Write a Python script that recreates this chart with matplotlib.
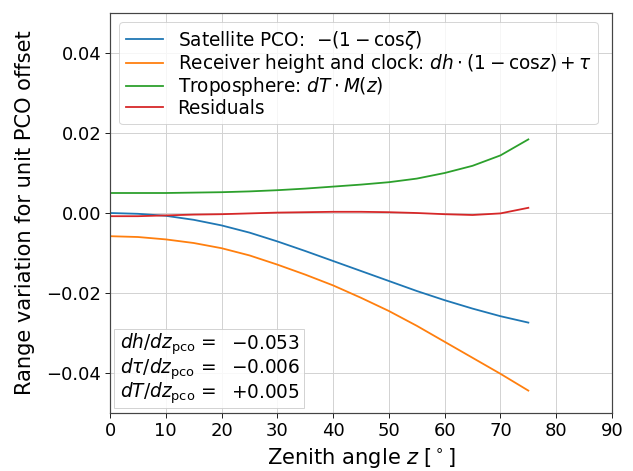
import matplotlib
matplotlib.use("Agg")
import matplotlib.pyplot as plt
from matplotlib.patches import Rectangle

zenith = [0, 5, 10, 15, 20, 25, 30, 35, 40, 45, 50, 55, 60, 65, 70, 75]
sat_pco = [0.0, -0.0002, -0.0007, -0.0017, -0.0031, -0.0049, -0.0071, -0.0095,
           -0.0120, -0.0145, -0.0170, -0.0195, -0.0218, -0.0239, -0.0258, -0.0274]
rcv_hc = [-0.0058, -0.0060, -0.0066, -0.0075, -0.0088, -0.0106, -0.0129, -0.0154,
          -0.0181, -0.0212, -0.0245, -0.0282, -0.0322, -0.0362, -0.0402, -0.0444]
tropo = [0.0050, 0.0050, 0.0050, 0.0051, 0.0052, 0.0054, 0.0057, 0.0061,
         0.0066, 0.0071, 0.0077, 0.0086, 0.0100, 0.0118, 0.0144, 0.0184]
resid = [-0.0008, -0.0008, -0.0006, -0.0004, -0.0003, -0.0001, 0.0001, 0.0002,
         0.0003, 0.0003, 0.0002, 0.0000, -0.0003, -0.0005, -0.0001, 0.0013]

labels = [r'Satellite PCO:  $-(1-\mathrm{cos}\zeta)$',
          r'Receiver height and clock: $dh\cdot(1-\mathrm{cos}z)+\tau$',
          r'Troposphere: $dT\cdot M(z)$',
          'Residuals']
coef_names = [r'$dh/dz_{\rm pco}$ =', r'$d\tau/dz_{\rm pco}$ =', r'$dT/dz_{\rm pco}$ =']
coef_values = [r'$-0.053$', r'$-0.006$', r'$+0.005$']

TICK_FS = 18
LEG_FS = 18.5
LAB_FS = 21

fig = plt.figure(figsize=(633/72, 471/72), dpi=72)
ax = fig.add_axes([110/633, 58/471, 502/633, 400/471])

colors = ['#1f77b4', '#ff7f0e', '#2ca02c', '#d62728']
for ys, lab, c in zip([sat_pco, rcv_hc, tropo, resid], labels, colors):
    ax.plot(zenith, ys, color=c, lw=1.8, label=lab)

ax.set_xlim(0, 90)
ax.set_ylim(-0.05, 0.05)
ax.set_xticks(range(0, 91, 10))
ax.set_yticks([-0.04, -0.02, 0.0, 0.02, 0.04])
ax.set_yticklabels(['\u22120.04', '\u22120.02', '0.00', '0.02', '0.04'])
ax.grid(True, color='#d3d3d3', lw=1.0)
ax.set_axisbelow(True)
for s in ax.spines.values():
    s.set_color('#444444')
    s.set_linewidth(1.2)
ax.tick_params(colors='#222222', labelcolor='black', length=5, width=1.0,
               labelsize=TICK_FS)

ax.set_xlabel(r'Zenith angle $z\;[^\circ]$', fontsize=LAB_FS, labelpad=7)
ax.set_ylabel('Range variation for unit PCO offset', fontsize=LAB_FS, labelpad=12)

leg = ax.legend(loc='upper left', fontsize=LEG_FS, handlelength=2.0,
                borderaxespad=0.5, labelspacing=0.02, handletextpad=0.8,
                borderpad=0.35)
leg.get_frame().set_edgecolor('#cccccc')

# coefficient box (axes coordinates)
ax.add_patch(Rectangle((0.008, 0.0125), 0.3785, 0.1975, transform=ax.transAxes,
                       facecolor='white', edgecolor='#cccccc', lw=1.0,
                       alpha=0.85, zorder=5))
row_y = [0.160, 0.0993, 0.0383]
for name, val, yy in zip(coef_names, coef_values, row_y):
    ax.text(0.2112, yy, name, transform=ax.transAxes, ha='right', va='baseline',
            fontsize=LEG_FS, zorder=6)
    ax.text(0.2404, yy, val, transform=ax.transAxes, ha='left', va='baseline',
            fontsize=LEG_FS, zorder=6)

fig.savefig('out.png', dpi=72)
